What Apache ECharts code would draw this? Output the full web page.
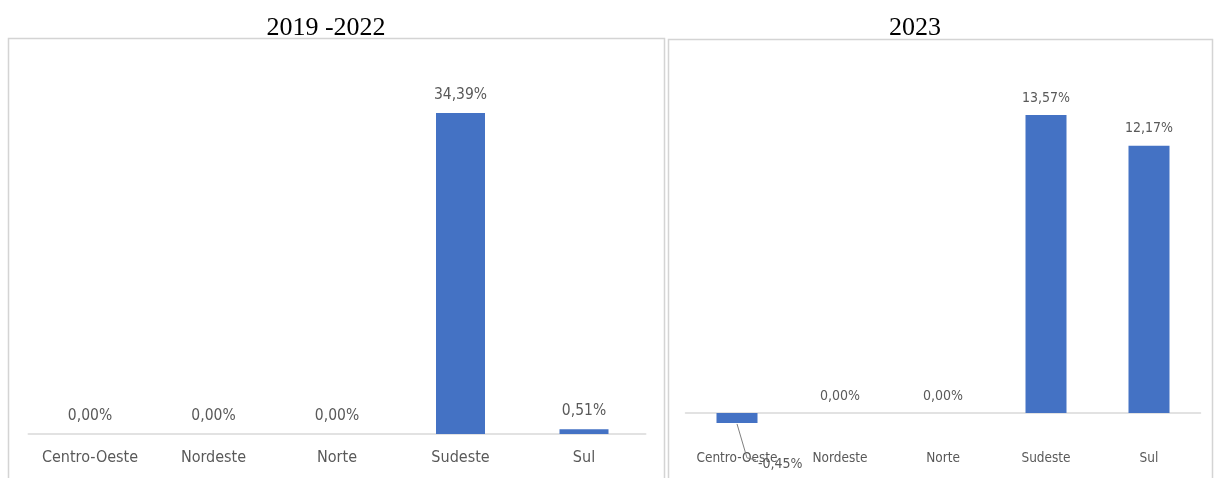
<!DOCTYPE html>
<html>
<head>
<meta charset="utf-8">
<script src="https://cdn.jsdelivr.net/npm/echarts@6/dist/echarts.min.js"></script>
<style>
  html, body { margin: 0; padding: 0; background: #fff; }
  #chart { width: 1214px; height: 478px; }
</style>
</head>
<body>
<div id="chart"></div>
<script>
// Regional share, two periods
const regions = ['Centro-Oeste', 'Nordeste', 'Norte', 'Sudeste', 'Sul'];
const values2019_2022 = [0.00, 0.00, 0.00, 34.39, 0.51];
const values2023 = [-0.45, 0.00, 0.00, 13.57, 12.17];
const panelTitles = ['2019 -2022', '2023'];

const BAR = '#4472C4';
const TEXT = '#595959';

// Pick a condensed face when one is installed, otherwise a regular sans.
const ctx = document.createElement('canvas').getContext('2d');
function hasFont(name) {
  ctx.font = '40px monospace';
  const base = ctx.measureText('Centro-Oeste 0,00%').width;
  ctx.font = '40px "' + name + '", monospace';
  return Math.abs(ctx.measureText('Centro-Oeste 0,00%').width - base) > 0.5;
}
const candidates = ['Liberation Sans Narrow', 'DejaVu Sans Condensed', 'Roboto Condensed', 'Liberation Sans'];
const FACE = candidates.find(hasFont) || 'sans-serif';
const FONT = '"' + FACE + '", sans-serif';
// font size giving a text of the wanted pixel width
function sizeFor(text, width) {
  ctx.font = '100px ' + FONT;
  return Math.round(100 * width / ctx.measureText(text).width * 2) / 2;
}
const leftCatSize = sizeFor('Centro-Oeste', 96);
const rightCatSize = sizeFor('Centro-Oeste', 82);
const leftValSize = sizeFor('0,00%', 45);
const rightValSize = sizeFor('0,00%', 40);

const fmt = v => v.toFixed(2).replace('.', ',') + '%';

const chart = echarts.init(document.getElementById('chart'), null, { renderer: 'canvas' });

function valueLabel(size) {
  return {
    show: true,
    position: 'top',
    distance: 10,
    color: TEXT,
    fontFamily: FONT,
    fontSize: size,
    formatter: p => fmt(p.value)
  };
}

// Negative bar label sits below and to the right of the bar
function negativeLabelLayout(p) {
  if (values2023[p.dataIndex] >= 0) return {};
  const cx = p.rect.x + p.rect.width / 2;
  const by = p.rect.y + p.rect.height;
  return { x: cx + 21, y: by + 41, align: 'left', verticalAlign: 'middle' };
}

chart.setOption({
  backgroundColor: '#ffffff',
  animation: false,
  title: [
    { text: panelTitles[0], left: 321, top: 10, textAlign: 'center',
      textStyle: { fontFamily: '"Liberation Serif", "Times New Roman", serif', fontSize: 26, fontWeight: 'normal', color: '#000' } },
    { text: panelTitles[1], left: 910, top: 10, textAlign: 'center',
      textStyle: { fontFamily: '"Liberation Serif", "Times New Roman", serif', fontSize: 26, fontWeight: 'normal', color: '#000' } }
  ],
  graphic: [
    { id: 'frameLeft', type: 'rect', shape: { x: 8.5, y: 38.5, width: 656, height: 460 },
      style: { fill: 'none', stroke: '#d4d4d4', lineWidth: 1.5 }, silent: true },
    { id: 'frameRight', type: 'rect', shape: { x: 668.5, y: 39.5, width: 544, height: 460 },
      style: { fill: 'none', stroke: '#d4d4d4', lineWidth: 1.5 }, silent: true }
  ],
  grid: [
    { left: 28.25, width: 617.5, top: 60.64, height: 373.36, containLabel: false },
    { left: 685.5, width: 515, top: 83.6, height: 351.4, containLabel: false }
  ],
  xAxis: [
    { type: 'category', gridIndex: 0, data: regions,
      axisLine: { lineStyle: { color: '#d9d9d9', width: 1.5 } },
      axisTick: { show: false },
      axisLabel: { interval: 0, color: TEXT, fontFamily: FONT, fontSize: leftCatSize, margin: 16 } },
    { type: 'category', gridIndex: 1, data: regions,
      axisLine: { onZero: true, lineStyle: { color: '#d9d9d9', width: 1.5 } },
      axisTick: { show: false },
      axisLabel: { interval: 0, color: TEXT, fontFamily: FONT, fontSize: rightCatSize, margin: 16 } }
  ],
  yAxis: [
    { type: 'value', gridIndex: 0, min: 0, max: 40, show: false, splitLine: { show: false } },
    { type: 'value', gridIndex: 1, min: -1, max: 15, show: false, splitLine: { show: false } }
  ],
  series: [
    { type: 'bar', xAxisIndex: 0, yAxisIndex: 0, data: values2019_2022,
      barWidth: 49, itemStyle: { color: BAR }, label: valueLabel(leftValSize) },
    { type: 'bar', xAxisIndex: 1, yAxisIndex: 1,
      data: values2023.map(v => v < 0 ? { value: v, label: { position: 'bottom' } } : v),
      barWidth: 41, itemStyle: { color: BAR }, label: valueLabel(rightValSize),
      labelLayout: negativeLabelLayout
    }
  ]
});

// Leader lines from each negative bar's bottom to its label
const leaders = [];
values2023.forEach((v, i) => {
  if (v >= 0) return;
  const [cx, by] = chart.convertToPixel({ xAxisIndex: 1, yAxisIndex: 1 }, [regions[i], v]);
  leaders.push({
    id: 'leader' + i, type: 'polyline', silent: true, z: 10,
    shape: { points: [[cx, by + 1], [cx + 10, by + 35], [cx + 19, by + 37]] },
    style: { fill: null, stroke: '#7f7f7f', lineWidth: 1 }
  });
});
chart.setOption({ graphic: leaders });
</script>
</body>
</html>
